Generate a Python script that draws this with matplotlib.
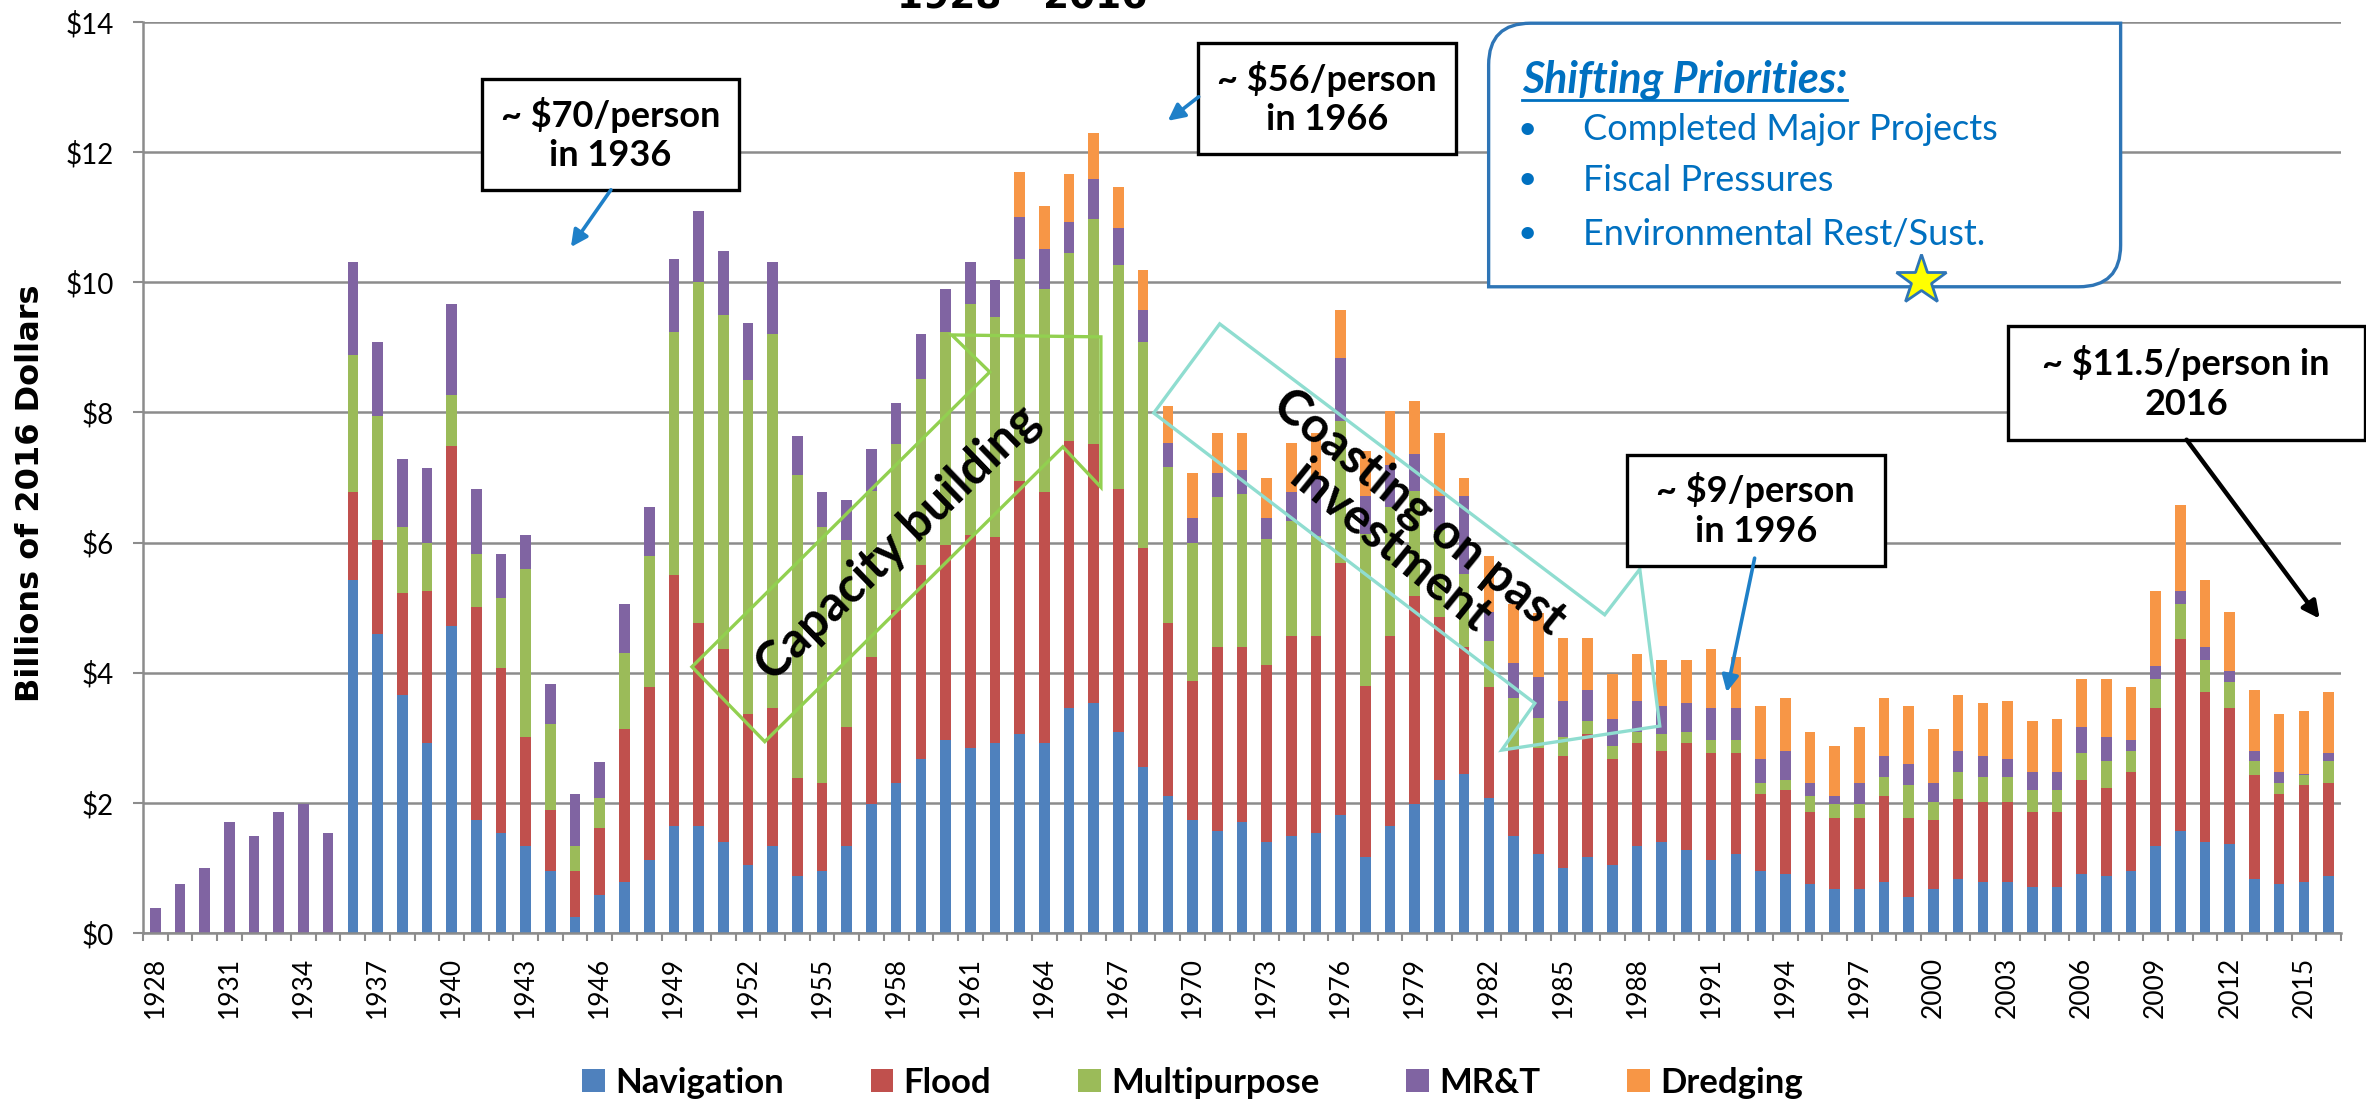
import matplotlib.pyplot as plt
import numpy as np
from matplotlib.patches import Rectangle, Polygon, PathPatch
from matplotlib.path import Path

plt.rcParams['font.family'] = ['Lato', 'DejaVu Sans']

years = list(range(1928, 2017))

# billions of 2016 dollars, one value per year 1928-2016
navigation = [
    0, 0, 0, 0, 0, 0, 0, 0,
    5.42, 4.60, 3.66, 2.92, 4.72, 1.73, 1.53, 1.33, 0.96, 0.25,
    0.59, 0.79, 1.12, 1.65, 1.65, 1.40, 1.04, 1.33, 0.88, 0.96,
    1.33, 1.98, 2.31, 2.68, 2.97, 2.84, 2.92, 3.05, 2.92, 3.45,
    3.54, 3.09, 2.55, 2.10, 1.73, 1.57, 1.70, 1.40, 1.49, 1.53,
    1.82, 1.16, 1.65, 1.98, 2.35, 2.44, 2.07, 1.49, 1.21, 1.00,
    1.16, 1.04, 1.33, 1.40, 1.28, 1.12, 1.21, 0.96, 0.91, 0.75,
    0.67, 0.67, 0.79, 0.55, 0.67, 0.83, 0.79, 0.79, 0.71, 0.71,
    0.91, 0.87, 0.96, 1.33, 1.57, 1.40, 1.36, 0.83, 0.75, 0.79,
    0.87]
flood = [
    0, 0, 0, 0, 0, 0, 0, 0,
    1.35, 1.44, 1.56, 2.34, 2.76, 3.28, 2.54, 1.68, 0.93, 0.71,
    1.02, 2.34, 2.66, 3.85, 3.12, 2.96, 2.33, 2.12, 1.50, 1.35,
    1.84, 2.26, 2.66, 2.98, 2.99, 3.28, 3.16, 3.90, 3.86, 4.11,
    3.97, 3.74, 3.37, 2.67, 2.14, 2.83, 2.70, 2.72, 3.08, 3.04,
    3.86, 2.63, 2.92, 3.20, 2.51, 1.96, 1.71, 1.35, 1.63, 1.72,
    1.89, 1.63, 1.59, 1.40, 1.64, 1.64, 1.55, 1.18, 1.28, 1.11,
    1.10, 1.10, 1.31, 1.22, 1.06, 1.23, 1.23, 1.23, 1.15, 1.15,
    1.44, 1.36, 1.51, 2.12, 2.95, 2.30, 2.09, 1.60, 1.39, 1.48,
    1.44]
multipurpose = [
    0, 0, 0, 0, 0, 0, 0, 0,
    2.11, 1.90, 1.02, 0.74, 0.78, 0.82, 1.07, 2.58, 1.32, 0.37,
    0.46, 1.18, 2.01, 3.74, 5.23, 5.13, 5.13, 5.76, 4.65, 3.93,
    2.87, 2.55, 2.55, 2.85, 3.28, 3.54, 3.38, 3.41, 3.12, 2.89,
    3.46, 3.44, 3.16, 2.39, 2.13, 2.30, 2.35, 1.93, 1.76, 1.53,
    2.18, 2.34, 1.98, 1.61, 1.33, 1.12, 0.70, 0.77, 0.46, 0.29,
    0.20, 0.21, 0.17, 0.25, 0.17, 0.20, 0.20, 0.17, 0.16, 0.24,
    0.21, 0.21, 0.29, 0.50, 0.29, 0.41, 0.37, 0.37, 0.33, 0.33,
    0.41, 0.41, 0.33, 0.45, 0.53, 0.49, 0.41, 0.21, 0.17, 0.16,
    0.33]
mrt = [
    0.39, 0.75, 1.00, 1.70, 1.49, 1.86, 1.98, 1.53,
    1.43, 1.14, 1.04, 1.15, 1.40, 0.99, 0.69, 0.53, 0.61, 0.81,
    0.56, 0.74, 0.75, 1.12, 1.09, 0.99, 0.87, 1.10, 0.61, 0.53,
    0.61, 0.65, 0.62, 0.70, 0.66, 0.65, 0.57, 0.64, 0.61, 0.47,
    0.61, 0.57, 0.49, 0.37, 0.38, 0.37, 0.37, 0.33, 0.45, 0.92,
    0.98, 0.58, 0.64, 0.57, 0.52, 1.19, 0.46, 0.54, 0.64, 0.56,
    0.49, 0.41, 0.48, 0.44, 0.45, 0.49, 0.49, 0.36, 0.45, 0.21,
    0.12, 0.33, 0.33, 0.33, 0.29, 0.33, 0.33, 0.28, 0.28, 0.28,
    0.41, 0.37, 0.16, 0.21, 0.21, 0.21, 0.16, 0.16, 0.16, 0.02,
    0.12]
dredging = [
    0, 0, 0, 0, 0, 0, 0, 0,
    0, 0, 0, 0, 0, 0, 0, 0, 0, 0,
    0, 0, 0, 0, 0, 0, 0, 0, 0, 0,
    0, 0, 0, 0, 0, 0, 0, 0.70, 0.66, 0.74,
    0.71, 0.62, 0.62, 0.57, 0.69, 0.62, 0.57, 0.61, 0.75, 0.66,
    0.73, 0.69, 0.83, 0.82, 0.98, 0.28, 0.85, 0.90, 0.98, 0.96,
    0.79, 0.69, 0.71, 0.70, 0.65, 0.91, 0.79, 0.82, 0.81, 0.78,
    0.78, 0.86, 0.89, 0.89, 0.82, 0.86, 0.82, 0.90, 0.78, 0.82,
    0.73, 0.89, 0.82, 1.15, 1.31, 1.02, 0.91, 0.94, 0.90, 0.96,
    0.94]

series = [
    ('Navigation', navigation, '#4F81BD'),
    ('Flood', flood, '#C0504D'),
    ('Multipurpose', multipurpose, '#9BBB59'),
    ('MR&T', mrt, '#8064A2'),
    ('Dredging', dredging, '#F79646'),
]

GRAY = '#8C8C8C'
BLUE = '#1F80C8'

fig = plt.figure(figsize=(23.66, 11.07), dpi=100)
ax = fig.add_axes([0.0604, 0.1572, 0.9290, 0.8230])

x = np.arange(len(years))
bottom = np.zeros(len(years))
for name, vals, color in series:
    ax.bar(x, vals, 0.43, bottom=bottom, color=color, label=name, zorder=2)
    bottom += np.array(vals)

ax.set_xlim(-0.5, len(years) - 0.5)
ax.set_ylim(0, 14)
ax.set_yticks(np.arange(0, 15, 2))
ax.set_yticklabels(['$%d' % v for v in range(0, 15, 2)], fontsize=20)
ax.set_xticks(x[::3])
ax.set_xticklabels([str(y) for y in years[::3]], rotation=90, fontsize=19)
ax.set_xticks(np.arange(-0.5, len(years), 1), minor=True)
ax.tick_params(axis='x', which='major', length=0, pad=17)
ax.tick_params(axis='x', which='minor', length=6, width=1.5, color=GRAY)
ax.tick_params(axis='y', length=7, width=1.5, color=GRAY, pad=14)

ax.grid(axis='y', color=GRAY, linewidth=1.8, zorder=0)
ax.set_axisbelow(True)
for side in ['top', 'right']:
    ax.spines[side].set_visible(False)
for side in ['left', 'bottom']:
    ax.spines[side].set_color(GRAY)
    ax.spines[side].set_linewidth(1.8)

fig.text(0.0127, 0.554, 'Billions of 2016 Dollars', rotation=90, ha='center', va='center',
         fontsize=23, fontweight='bold', family='DejaVu Sans')
fig.text(0.432, 0.9919, '1928 - 2016', ha='center', va='baseline',
         fontsize=27, fontweight='bold', family='DejaVu Sans')

fig.legend(loc='center', bbox_to_anchor=(0.504, 0.0217), ncol=5, frameon=False,
           prop={'weight': 'bold', 'size': 25}, handlelength=0.65, handleheight=0.65,
           columnspacing=2.5, handletextpad=0.3)

# phase outlines
capacity = [(21.73, 4.09), (24.68, 2.94), (36.75, 7.47), (38.29, 6.85),
            (38.29, 9.16), (32.25, 9.19), (33.79, 8.62)]
ax.add_patch(Polygon(capacity, closed=True, fill=False, edgecolor='#92D050', lw=2.4, zorder=4))
ax.text(30.07, 5.99, 'Capacity building', rotation=44, ha='center', va='center',
        rotation_mode='anchor', fontsize=35, fontweight='bold', zorder=5)

coasting = [(43.10, 9.36), (40.43, 7.99), (55.86, 3.53), (54.52, 2.81),
            (60.92, 3.18), (60.11, 5.59), (58.69, 4.89)]
ax.add_patch(Polygon(coasting, closed=True, fill=False, edgecolor='#8FDDD0', lw=2.4, zorder=4))
ax.text(50.6, 6.2, 'Coasting on past\ninvestment', rotation=-39, ha='center', va='center',
        rotation_mode='anchor', fontsize=35, fontweight='bold', linespacing=1.0, zorder=5)


def callout(x0, y0, x1, y1, text, tail, head, color, lw):
    ax.add_patch(Rectangle((x0, y0), x1 - x0, y1 - y0, facecolor='white', edgecolor='black',
                           lw=2.4, zorder=6, clip_on=False))
    ax.text((x0 + x1) / 2, (y0 + y1) / 2, text, ha='center', va='center', fontsize=26,
            fontweight='bold', linespacing=1.25, zorder=7)
    ax.annotate('', xy=head, xytext=tail, annotation_clip=False, zorder=7,
                arrowprops=dict(arrowstyle='-|>', color=color, lw=lw, mutation_scale=25,
                                shrinkA=0, shrinkB=0))


callout(13.22, 11.42, 23.63, 13.12, '~ $70/person\nin 1936', (18.45, 11.42), (16.83, 10.54), BLUE, 2.6)
callout(42.21, 11.97, 52.66, 13.68, '~ $56/person\nin 1966', (42.25, 12.85), (41.00, 12.48), BLUE, 2.6)
callout(59.58, 5.64, 70.03, 7.35, '~ $9/person\nin 1996', (64.76, 5.76), (63.63, 3.70), BLUE, 2.6)
callout(75.01, 7.58, 89.46, 9.33, '~ $11.5/person in\n2016', (82.25, 7.58), (87.64, 4.83), 'black', 3.2)

# shifting priorities box, rounded top-left and bottom-right corners
bx0, by0, bx1, by1 = 53.99, 9.93, 79.58, 13.98
rx, ry = 1.7, 0.64
verts = [(bx1, by1), (bx0 + rx, by1), (bx0, by1), (bx0, by1 - ry), (bx0, by0),
         (bx1 - rx, by0), (bx1, by0), (bx1, by0 + ry), (bx1, by1)]
codes = [Path.MOVETO, Path.LINETO, Path.CURVE3, Path.CURVE3, Path.LINETO,
         Path.LINETO, Path.CURVE3, Path.CURVE3, Path.CLOSEPOLY]
ax.add_patch(PathPatch(Path(verts, codes), facecolor='white', edgecolor='#2E75B6', lw=2.4,
                       zorder=6, clip_on=False))
head = ax.text(55.33, 13.11, 'Shifting Priorities:', ha='left', va='center', fontsize=31,
               fontweight='bold', style='italic', color='#0070C0', zorder=7)
for yy, item in zip([12.34, 11.57, 10.74],
                    ['Completed Major Projects', 'Fiscal Pressures', 'Environmental Rest/Sust.']):
    ax.text(55.57, yy, '\u2022', ha='center', va='center', fontsize=24, color='#0070C0', zorder=7)
    ax.text(57.8, yy, item, ha='left', va='center', fontsize=26, color='#0070C0', zorder=7)
ax.plot(71.48, 10.04, marker='*', markersize=38, markerfacecolor='#FFFF00',
        markeredgecolor='#2E75B6', markeredgewidth=2, zorder=8, clip_on=False)

fig.canvas.draw()
bb = head.get_window_extent().transformed(ax.transData.inverted())
ax.plot([bb.x0, bb.x1], [12.80, 12.80], color='#0070C0', lw=2, zorder=7)

fig.savefig('out.png', dpi=100)
